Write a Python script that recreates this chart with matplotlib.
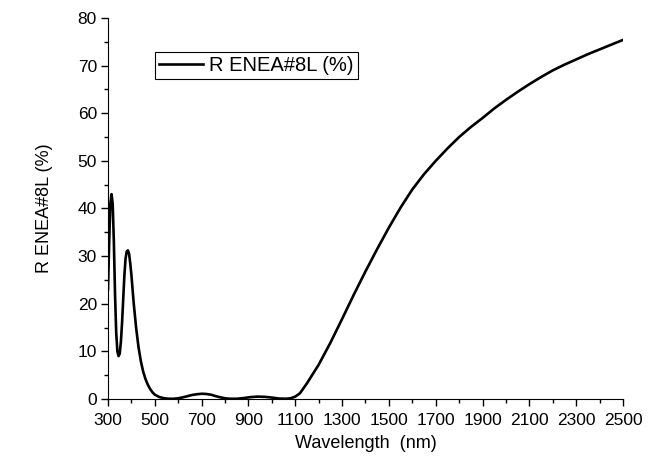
import matplotlib.pyplot as plt
from matplotlib.ticker import MultipleLocator

plt.rcParams['font.family'] = ['Liberation Sans', 'DejaVu Sans']

# reflectance spectrum
wavelength = [300, 305, 310, 315, 320, 325, 330, 335, 340, 345, 350, 355, 360, 365, 370,
              375, 380, 385, 390, 395, 400, 410, 420, 430, 440, 450, 460, 470, 480, 490,
              500, 520, 540, 560, 580, 600, 620, 640, 660, 680, 700, 720, 740, 760, 780,
              800, 820, 850, 880, 910, 940, 970, 1000, 1030, 1060, 1080, 1100, 1120, 1150,
              1200, 1250, 1300, 1350, 1400, 1450, 1500, 1550, 1600, 1650, 1700, 1750, 1800,
              1850, 1900, 1950, 2000, 2050, 2100, 2150, 2200, 2250, 2300, 2350, 2400, 2450, 2500]
refl = [23, 33, 41, 43, 41, 33, 22, 14, 10, 9, 9.5, 12, 16, 21, 26,
        29.5, 31, 31.2, 30.5, 28.5, 26, 20, 15, 11, 8, 5.8, 4.2, 3, 2.1, 1.4,
        0.9, 0.4, 0.15, 0.05, 0.05, 0.15, 0.35, 0.6, 0.85, 1.0, 1.1, 1.05, 0.9, 0.6, 0.35,
        0.15, 0.05, 0.05, 0.2, 0.4, 0.5, 0.45, 0.3, 0.1, 0.05, 0.15, 0.5, 1.2, 3.3,
        7.2, 11.8, 16.8, 21.9, 26.8, 31.5, 36, 40.2, 44, 47.2, 50, 52.6, 55,
        57.1, 59, 61, 62.8, 64.5, 66.1, 67.6, 69, 70.2, 71.3, 72.4, 73.4, 74.4, 75.4]

xticks = list(range(300, 2501, 200))
yticks = list(range(0, 81, 10))

fig = plt.figure(figsize=(6.61, 4.66), dpi=100)
ax = fig.add_axes([0.1634, 0.1438, 0.7791, 0.8176])

ax.plot(wavelength, refl, color='black', lw=1.9, label='R ENEA#8L (%)')

ax.set_xlim(300, 2500)
ax.set_ylim(0, 80)
ax.set_xticks(xticks)
ax.set_yticks(yticks)
ax.xaxis.set_minor_locator(MultipleLocator(100))
ax.yaxis.set_minor_locator(MultipleLocator(5))
ax.tick_params(which='major', direction='out', length=5, width=1, labelsize=12.5, pad=3)
ax.tick_params(axis='x', which='major', pad=5)
ax.tick_params(which='minor', direction='out', length=3, width=1)

ax.spines['top'].set_visible(False)
ax.spines['right'].set_visible(False)

ax.set_xlabel('Wavelength  (nm)', fontsize=13, labelpad=5)
ax.set_ylabel('R ENEA#8L (%)', fontsize=13, labelpad=18)

leg = ax.legend(loc='upper left', bbox_to_anchor=(0.091, 0.911), borderaxespad=0,
                fancybox=False, framealpha=1, edgecolor='black', fontsize=14.5,
                handlelength=2.2, borderpad=0.2, handletextpad=0.3)
leg.get_frame().set_linewidth(0.8)

fig.savefig('out.png', dpi=100)
